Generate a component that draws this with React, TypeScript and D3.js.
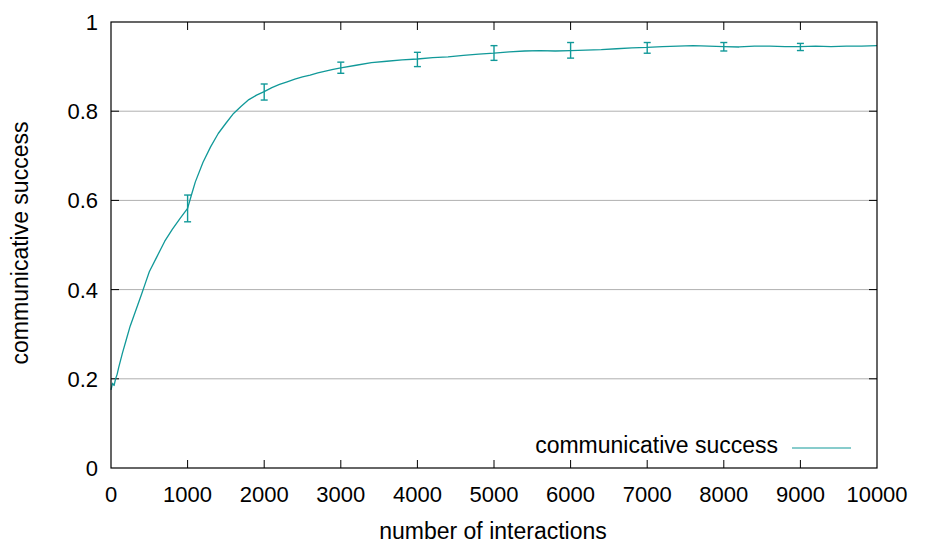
import React from "react";
import * as d3 from "d3";

// Mean communicative success over the course of the interactions
const interactions = [
  0, 20, 40, 60, 80, 100, 150, 200, 250, 300, 350, 400, 450, 500, 600, 700, 800, 900,
  1000, 1050, 1100, 1200, 1300, 1400, 1500, 1600, 1700, 1800, 1900, 2000, 2100, 2200,
  2300, 2400, 2500, 2600, 2700, 2800, 2900, 3000, 3200, 3400, 3600, 3800, 4000, 4200,
  4400, 4600, 4800, 5000, 5200, 5400, 5600, 5800, 6000, 6200, 6400, 6600, 6800, 7000,
  7200, 7400, 7600, 7800, 8000, 8200, 8400, 8600, 8800, 9000, 9200, 9400, 9600, 9800, 10000,
];
const success = [
  0.175, 0.19, 0.185, 0.2, 0.21, 0.225, 0.258, 0.288, 0.318, 0.342, 0.366, 0.39, 0.415,
  0.44, 0.474, 0.508, 0.535, 0.559, 0.582, 0.612, 0.641, 0.685, 0.72, 0.75, 0.773, 0.795,
  0.811, 0.826, 0.836, 0.844, 0.853, 0.86, 0.866, 0.872, 0.877, 0.881, 0.886, 0.89, 0.894,
  0.897, 0.903, 0.909, 0.912, 0.915, 0.917, 0.92, 0.922, 0.925, 0.928, 0.93, 0.933, 0.935,
  0.936, 0.935, 0.936, 0.937, 0.938, 0.94, 0.942, 0.943, 0.945, 0.946, 0.947, 0.946, 0.945,
  0.944, 0.946, 0.946, 0.945, 0.945, 0.946, 0.945, 0.946, 0.946, 0.947,
];

// Error bars (mean, lower, upper) sampled every 1000 interactions
const errX = [1000, 2000, 3000, 4000, 5000, 6000, 7000, 8000, 9000];
const errMean = [0.582, 0.844, 0.897, 0.917, 0.93, 0.936, 0.943, 0.945, 0.945];
const errLow = [0.552, 0.825, 0.885, 0.9, 0.914, 0.919, 0.93, 0.935, 0.936];
const errHigh = [0.612, 0.861, 0.91, 0.932, 0.947, 0.954, 0.954, 0.954, 0.952];

const xTicks = [0, 1000, 2000, 3000, 4000, 5000, 6000, 7000, 8000, 9000, 10000];
const yTicks = [0, 0.2, 0.4, 0.6, 0.8, 1];

const W = 929;
const H = 545;
const left = 111;
const right = 877;
const top = 22;
const bottom = 468;
const teal = "#119999";
const font = "'Liberation Sans', Arial, sans-serif";
const numSize = 22;
const wordSize = 23;

export default function App() {
  const x = d3.scaleLinear().domain([0, 10000]).range([left, right]);
  const y = d3.scaleLinear().domain([0, 1]).range([bottom, top]);
  const pts = interactions.map((v, i) => [v, success[i]] as [number, number]);
  const line = d3
    .line<[number, number]>()
    .x((d) => x(d[0]))
    .y((d) => y(d[1]));
  const tickLen = 8;
  const yFmt = (v: number) => (v === 0 || v === 1 ? String(v) : v.toFixed(1));

  return (
    <svg
      width={W}
      height={H}
      style={{ position: "absolute", left: 0, top: 0, background: "#fff" }}
      fontFamily={font}
    >
      <rect x={0} y={0} width={W} height={H} fill="#fff" />
      {/* horizontal grid */}
      {yTicks.slice(1, -1).map((t) => (
        <line key={"g" + t} x1={left} x2={right} y1={y(t)} y2={y(t)} stroke="#b0b0b0" strokeWidth={1} />
      ))}
      {/* x ticks, bottom and mirrored on top */}
      {xTicks.slice(1, -1).map((t) => (
        <g key={"xt" + t} stroke="#000" strokeWidth={1}>
          <line x1={x(t)} x2={x(t)} y1={bottom} y2={bottom - tickLen} />
          <line x1={x(t)} x2={x(t)} y1={top} y2={top + tickLen} />
        </g>
      ))}
      {/* y ticks, left and mirrored on right */}
      {yTicks.slice(1, -1).map((t) => (
        <g key={"yt" + t} stroke="#000" strokeWidth={1}>
          <line x1={left} x2={left + tickLen} y1={y(t)} y2={y(t)} />
          <line x1={right} x2={right - tickLen} y1={y(t)} y2={y(t)} />
        </g>
      ))}
      {/* data line */}
      <path d={line(pts) || ""} fill="none" stroke={teal} strokeWidth={1.3} strokeLinejoin="round" />
      {/* error bars */}
      {errX.map((v, i) => (
        <g key={"e" + v} stroke={teal} strokeWidth={1.4}>
          <line x1={x(v)} x2={x(v)} y1={y(errLow[i])} y2={y(errHigh[i])} />
          <line x1={x(v) - 3.5} x2={x(v) + 3.5} y1={y(errLow[i])} y2={y(errLow[i])} />
          <line x1={x(v) - 3.5} x2={x(v) + 3.5} y1={y(errHigh[i])} y2={y(errHigh[i])} />
        </g>
      ))}
      {/* frame */}
      <rect x={left} y={top} width={right - left} height={bottom - top} fill="none" stroke="#000" strokeWidth={1.2} />
      {/* tick labels */}
      {xTicks.map((t) => (
        <text key={"xl" + t} x={x(t)} y={502} textAnchor="middle" fontSize={numSize} fill="#000">
          {t}
        </text>
      ))}
      {yTicks.map((t) => (
        <text key={"yl" + t} x={98} y={y(t) + 8} textAnchor="end" fontSize={numSize} fill="#000">
          {yFmt(t)}
        </text>
      ))}
      {/* axis titles */}
      <text x={493} y={539} textAnchor="middle" fontSize={wordSize} fill="#000">
        number of interactions
      </text>
      <text transform="translate(28,243) rotate(-90)" textAnchor="middle" fontSize={wordSize} fill="#000">
        communicative success
      </text>
      {/* legend */}
      <text x={778} y={453} textAnchor="end" fontSize={wordSize} fill="#000">
        communicative success
      </text>
      <line x1={792} x2={851} y1={448} y2={448} stroke={teal} strokeWidth={1} />
    </svg>
  );
}
